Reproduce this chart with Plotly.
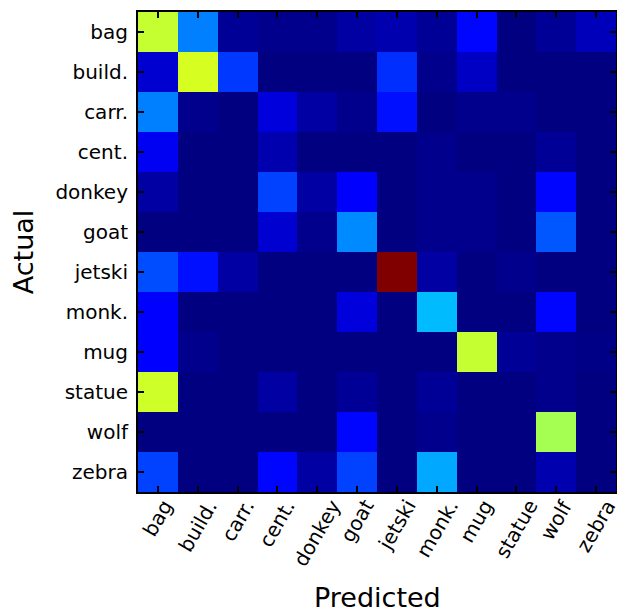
import plotly.graph_objects as go

labels = ["bag", "build.", "carr.", "cent.", "donkey", "goat",
          "jetski", "monk.", "mug", "statue", "wolf", "zebra"]

# rows = actual class, columns = predicted class (normalised, jetski diag = 1)
row_bag    = [0.59, 0.25, 0.02, 0.01, 0.01, 0.03, 0.04, 0.02, 0.13, 0.00, 0.02, 0.05]
row_build  = [0.07, 0.61, 0.18, 0.00, 0.00, 0.00, 0.17, 0.01, 0.06, 0.00, 0.00, 0.00]
row_carr   = [0.25, 0.01, 0.00, 0.08, 0.03, 0.01, 0.14, 0.00, 0.01, 0.01, 0.00, 0.00]
row_cent   = [0.10, 0.00, 0.00, 0.04, 0.00, 0.00, 0.00, 0.01, 0.00, 0.00, 0.02, 0.00]
row_donkey = [0.03, 0.00, 0.00, 0.19, 0.03, 0.12, 0.00, 0.01, 0.01, 0.00, 0.13, 0.00]
row_goat   = [0.00, 0.00, 0.00, 0.07, 0.01, 0.26, 0.00, 0.01, 0.01, 0.00, 0.21, 0.00]
row_jetski = [0.20, 0.14, 0.03, 0.00, 0.00, 0.00, 1.00, 0.03, 0.00, 0.01, 0.00, 0.00]
row_monk   = [0.12, 0.00, 0.00, 0.00, 0.00, 0.08, 0.00, 0.31, 0.00, 0.00, 0.13, 0.00]
row_mug    = [0.12, 0.01, 0.00, 0.00, 0.00, 0.00, 0.00, 0.00, 0.59, 0.02, 0.01, 0.005]
row_statue = [0.60, 0.00, 0.00, 0.03, 0.00, 0.02, 0.00, 0.02, 0.00, 0.00, 0.01, 0.00]
row_wolf   = [0.00, 0.00, 0.00, 0.00, 0.00, 0.13, 0.00, 0.01, 0.00, 0.00, 0.55, 0.00]
row_zebra  = [0.19, 0.00, 0.00, 0.13, 0.03, 0.19, 0.00, 0.29, 0.00, 0.00, 0.04, 0.00]

z = [row_bag, row_build, row_carr, row_cent, row_donkey, row_goat,
     row_jetski, row_monk, row_mug, row_statue, row_wolf, row_zebra]

# matplotlib "jet" colormap
jet = [
    [0.0, "rgb(0,0,128)"], [0.11, "rgb(0,0,255)"], [0.125, "rgb(0,0,255)"],
    [0.34, "rgb(0,219,255)"], [0.35, "rgb(0,230,247)"], [0.375, "rgb(21,255,226)"],
    [0.64, "rgb(239,255,8)"], [0.65, "rgb(247,246,0)"], [0.66, "rgb(255,236,0)"],
    [0.89, "rgb(255,19,0)"], [0.91, "rgb(232,0,0)"], [1.0, "rgb(128,0,0)"],
]

fig = go.Figure(go.Heatmap(
    z=z, x=labels, y=labels, colorscale=jet, zmin=0, zmax=1,
    showscale=False, zsmooth=False,
))

font = "DejaVu Sans"
axis_common = dict(
    type="category", showgrid=False, zeroline=False,
    showline=True, linecolor="black", linewidth=2, mirror="ticks",
    ticks="inside", ticklen=6, tickwidth=2, tickcolor="black",
)
fig.update_xaxes(range=[-0.5, 11.5], showticklabels=False, **axis_common)
fig.update_yaxes(range=[11.5, -0.5], tickfont=dict(family=font, size=20, color="black"),
                 ticklabelstandoff=4, **axis_common)

for lab in labels:
    fig.add_annotation(x=lab, y=0, xref="x", yref="paper", text=lab,
                       textangle=-60, showarrow=False, xanchor="center",
                       yanchor="top", yshift=-1,
                       font=dict(family=font, size=20, color="black"))

fig.add_annotation(x=0.5, y=-0.219, xref="paper", yref="paper", text="Predicted",
                   showarrow=False, xanchor="center", yanchor="middle",
                   font=dict(family=font, size=27, color="black"))
fig.add_annotation(x=-0.24, y=0.5, xref="paper", yref="paper", text="Actual",
                   textangle=-90, showarrow=False, xanchor="center", yanchor="middle",
                   font=dict(family=font, size=27, color="black"))

fig.update_layout(
    width=620, height=615,
    margin=dict(l=138, r=2, t=12, b=123),
    paper_bgcolor="white", plot_bgcolor="white",
)

fig.write_html("out.html", post_script=(
    "document.body.style.overflow='hidden';"
    "document.documentElement.style.overflow='hidden';"))
